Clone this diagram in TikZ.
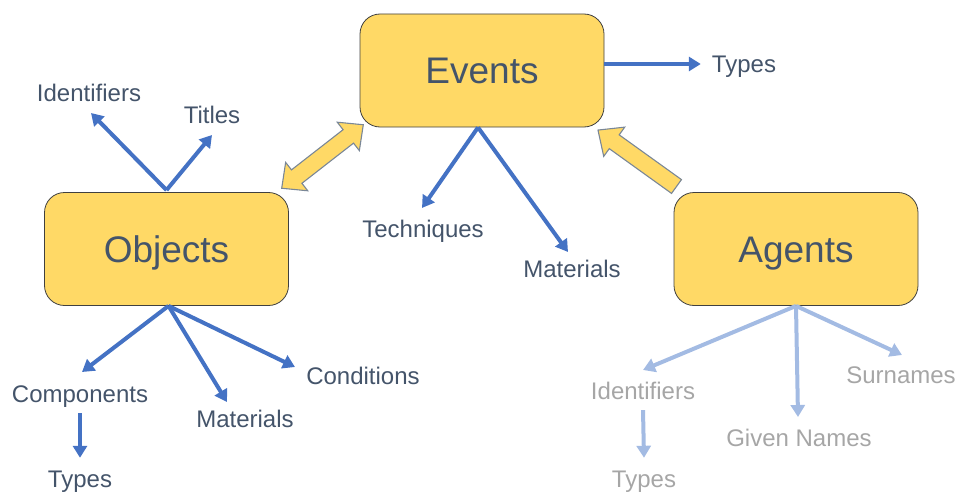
\documentclass[tikz,border=0pt]{standalone}
\usepackage{fontspec}
\setmainfont{Liberation Sans}
\usetikzlibrary{arrows.meta,calc}
\definecolor{boxfill}{HTML}{FFD966}
\definecolor{boxedge}{HTML}{404040}
\definecolor{blkedge}{HTML}{7A8797}
\definecolor{txt}{HTML}{44546A}
\definecolor{gtxt}{HTML}{A6A6A6}
\definecolor{blueA}{HTML}{4472C4}
\definecolor{blueB}{HTML}{A3BBE3}
\begin{document}
\begin{tikzpicture}[x=1pt,y=-1pt,
  box/.style={draw=boxedge, line width=0.8pt, fill=boxfill, rounded corners=20pt,
    minimum width=244pt, minimum height=113pt, inner sep=0pt, text=txt,
    font=\fontsize{37}{40}\selectfont, text height=26.5pt, text depth=0pt},
  lbl/.style={text=txt, font=\fontsize{24}{26}\selectfont, inner sep=0pt,
    text height=17pt, text depth=0pt},
  glbl/.style={lbl, text=gtxt},
  conn/.style={draw=blueA, line width=4pt, -{Triangle[length=12pt,width=14pt]}},
  gconn/.style={conn, draw=blueB},
  blk/.style={draw=blkedge, fill=boxfill, line width=1.1pt, line join=miter}]
\useasboundingbox (0,0) rectangle (960,492);

% boxes
\node[box] (events) at (482,70.5) {Events};
\node[box] (objects) at (166.5,249) {Objects};
\node[box] (agents) at (796,249) {Agents};

% labels
\node[lbl] (evTypes) at (744,64) {Types};
\node[lbl] (evTech) at (423,229) {Techniques};
\node[lbl] (evMat) at (572,269) {Materials};
\node[lbl] (obId) at (89,93) {Identifiers};
\node[lbl] (obTitles) at (212,115.5) {Titles};
\node[lbl] (obComp) at (80,394) {Components};
\node[lbl] (obTypes) at (80,478.5) {Types};
\node[lbl] (obMat) at (245,419) {Materials};
\node[lbl] (obCond) at (363,375.5) {Conditions};
\node[glbl] (agId) at (643,390.5) {Identifiers};
\node[glbl] (agTypes) at (644,478.5) {Types};
\node[glbl] (agGiven) at (799,438) {Given Names};
\node[glbl] (agSur) at (901,374.7) {Surnames};

% arrow end points
\coordinate (eTech) at (422,208);
\coordinate (eMat) at (568,252);
\coordinate (oId) at (91,113);
\coordinate (oTitles) at (212,135);
\coordinate (oComp) at (82,372);
\coordinate (oMat) at (227,402);
\coordinate (oCond) at (295,367);
\coordinate (aId) at (643,370);
\coordinate (aGiven) at (798,417);
\coordinate (aSur) at (902,355);

% connectors
\draw[conn] (events.east |- evTypes.west) -- ([xshift=-11pt]evTypes.west);
\draw[conn] ([xshift=-4pt]events.south) -- (eTech);
\draw[conn] ([xshift=-4pt]events.south) -- (eMat);
\draw[conn] ([yshift=2pt]objects.north) -- (oId);
\draw[conn] ([yshift=2pt]objects.north) -- (oTitles);
\draw[conn] ([xshift=2pt]objects.south) -- (oComp);
\draw[conn] ([xshift=2pt]objects.south) -- (oMat);
\draw[conn] ([xshift=2pt]objects.south) -- (oCond);
\draw[conn] ([yshift=-10.5pt]obComp.south) -- ([yshift=12pt]obTypes.north);
\draw[gconn] (agents.south) -- (aId);
\draw[gconn] (agents.south) -- (aGiven);
\draw[gconn] (agents.south) -- (aSur);
\draw[gconn] ([yshift=-11pt]agId.south) -- ([yshift=12pt]agTypes.north);

% block arrows
\begin{scope}[shift={(322.5,156.5)}, rotate=37.9]
  \draw[blk] (-51.7,0) -- (-32.7,18) -- (-32.7,8.5) -- (32.7,8.5) -- (32.7,18)
    -- (51.7,0) -- (32.7,-18) -- (32.7,-8.5) -- (-32.7,-8.5) -- (-32.7,-18) -- cycle;
\end{scope}
\begin{scope}[shift={(676.5,186.5)}, rotate=144.3]
  \draw[blk] (0,8.5) -- (76.7,8.5) -- (76.7,18) -- (96.7,0) -- (76.7,-18)
    -- (76.7,-8.5) -- (0,-8.5) -- cycle;
\end{scope}
\end{tikzpicture}
\end{document}
